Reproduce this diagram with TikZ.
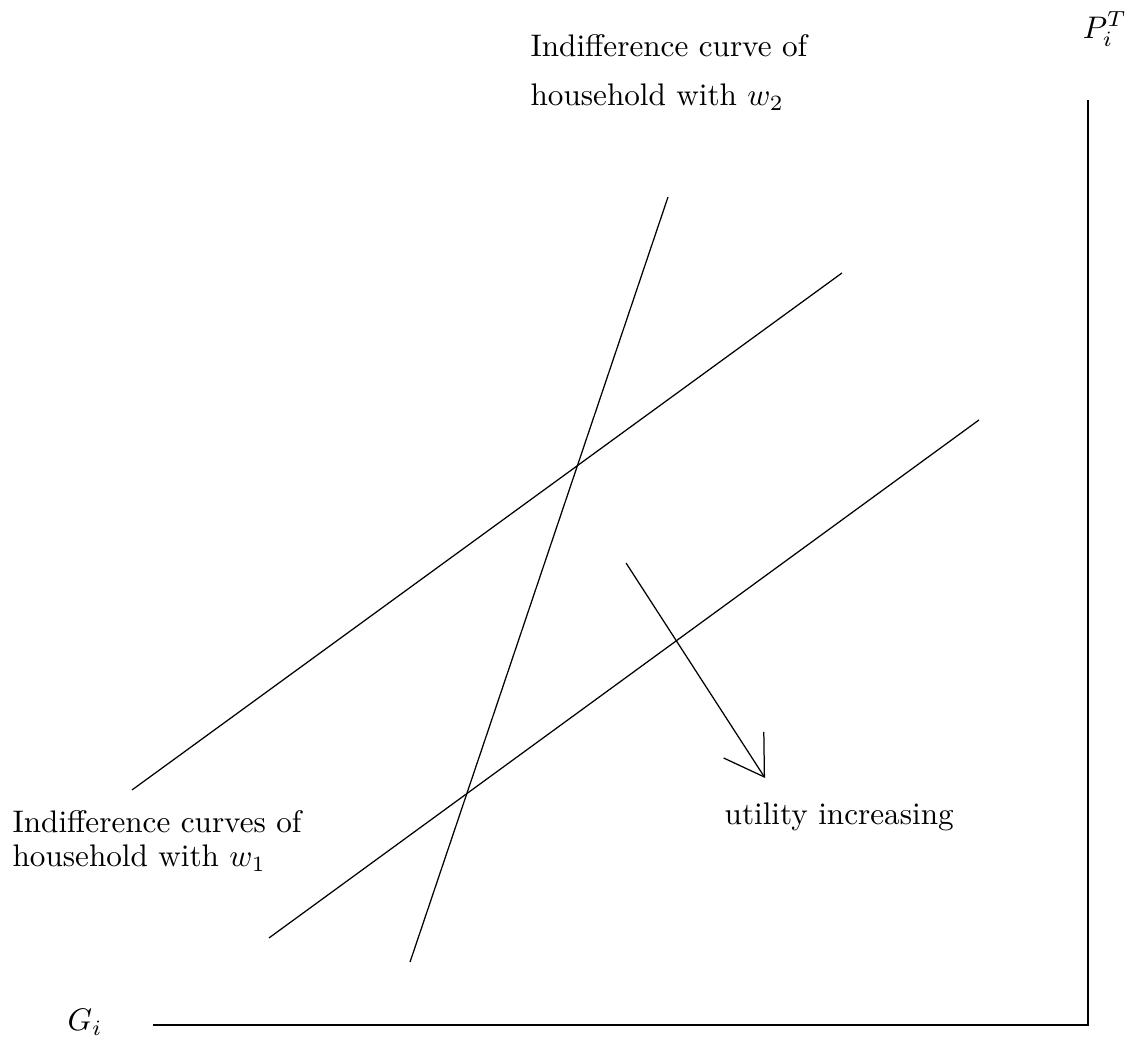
\documentclass[tikz,border=0pt]{standalone}
\usetikzlibrary{arrows.meta}

\begin{document}
\begin{tikzpicture}[line width=.4pt, lbl/.style={anchor=base west,inner sep=0pt}]
\useasboundingbox (0,0) rectangle (12.673,11.749);
% axes
\coordinate (O) at (12.256,0.203);
\coordinate (Ytop) at (12.256,10.623);
\coordinate (Xend) at (1.724,0.203);
\draw (Xend)--(O)--(Ytop);
\node[lbl] (ylab) at (12.19,11.32) {$P_i^T$};
\node[lbl] (xlab) at (0.755,0.135) {$G_i$};
% indifference curves, w1
\coordinate (A1) at (1.487,2.850);
\coordinate (A2) at (9.485,8.674);
\coordinate (B1) at (3.030,1.183);
\coordinate (B2) at (11.028,7.018);
\foreach \p/\q in {A1/A2,B1/B2}{\draw (\p)--(\q);}
% indifference curve, w2
\coordinate (C1) at (4.619,0.912);
\coordinate (C2) at (7.525,9.530);
\draw (C1)--(C2);
% direction of increasing utility
\coordinate (U1) at (7.052,5.407);
\coordinate (U2) at (8.618,2.985);
\draw[-{Straight Barb[length=4.3mm,width=5.4mm]}] (U1)--(U2);
\node[lbl] (util) at (8.156,2.456) {utility increasing};
\node[lbl] (w2a) at (5.97,11.107) {Indifference curve of};
\node[lbl] (w2b) at (5.97,10.555) {household with $w_2$};
\node[lbl] (w1a) at (0.135,2.366) {Indifference curves of};
\node[lbl] (w1b) at (0.135,1.983) {household with $w_1$};
\end{tikzpicture}
\end{document}
